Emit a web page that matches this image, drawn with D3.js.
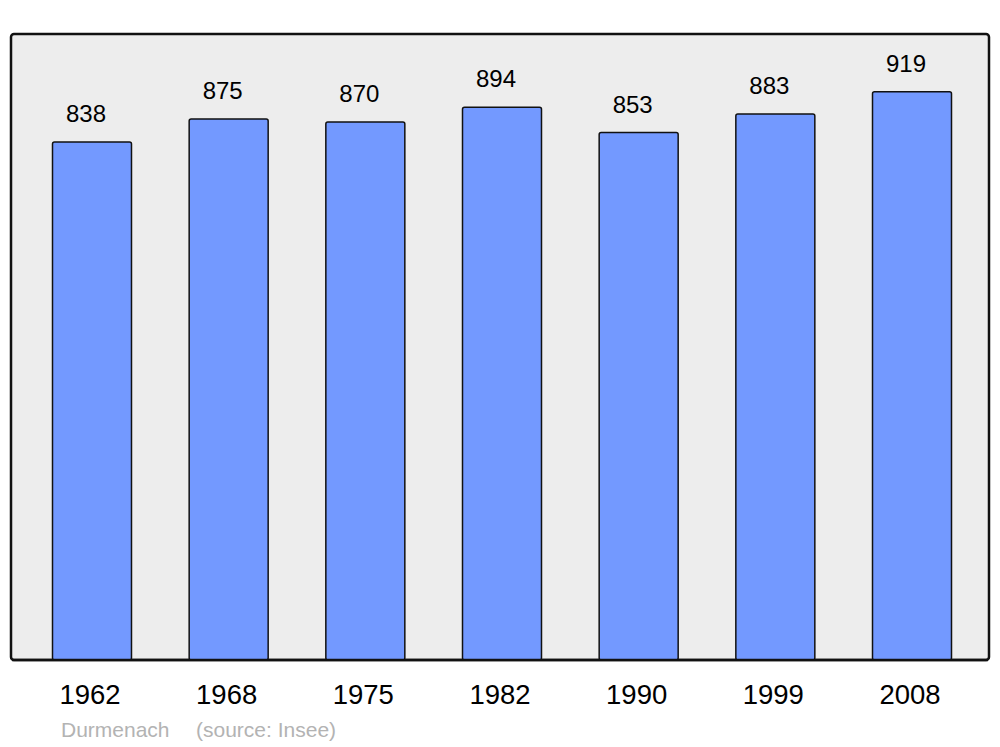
<!DOCTYPE html>
<html>
<head>
<meta charset="utf-8">
<script src="https://cdn.jsdelivr.net/npm/d3@7"></script>
<style>
  body { margin: 0; background: #fff; }
  svg { display: block; font-family: "Liberation Sans", Arial, sans-serif; }
</style>
</head>
<body>
<div id="chart"></div>
<script>
const years = ["1962", "1968", "1975", "1982", "1990", "1999", "2008"];
const population = [838, 875, 870, 894, 853, 883, 919];
const town = "Durmenach";
const source = "(source: Insee)";

const w = 1000, h = 747;

const svg = d3.select("#chart")
  .append("svg")
  .attr("width", w)
  .attr("height", h);

// panel background
svg.append("rect")
  .attr("x", 11)
  .attr("y", 34)
  .attr("width", 978)
  .attr("height", 626)
  .attr("rx", 3)
  .attr("fill", "#ededed")
  .attr("stroke", "#111")
  .attr("stroke-width", 2.5);

const x = d3.scaleBand()
  .domain(years)
  .range([52.5, 951.5])
  .paddingInner(0.422)
  .paddingOuter(0);

const y = d3.scaleLinear()
  .domain([0, d3.max(population) * 1.1])
  .range([660, 35]);

const data = years.map((yr, i) => ({ year: yr, value: population[i] }));

svg.selectAll("rect.bar")
  .data(data)
  .enter()
  .append("rect")
  .attr("class", "bar")
  .attr("x", d => x(d.year))
  .attr("y", d => y(d.value))
  .attr("width", x.bandwidth())
  .attr("height", d => 660 - y(d.value))
  .attr("rx", 2)
  .attr("fill", "#7399ff")
  .attr("stroke", "#111")
  .attr("stroke-width", 1.5);

// redraw bottom edge of the panel over the bars
svg.append("line")
  .attr("x1", 12).attr("x2", 988)
  .attr("y1", 660).attr("y2", 660)
  .attr("stroke", "#111")
  .attr("stroke-width", 2.5);

svg.selectAll("text.value")
  .data(data)
  .enter()
  .append("text")
  .attr("class", "value")
  .attr("x", d => x(d.year) + x.bandwidth() / 2 - 6)
  .attr("y", d => y(d.value) - 20)
  .attr("text-anchor", "middle")
  .style("font-size", "24px")
  .style("fill", "#000")
  .text(d => d.value);

svg.selectAll("text.year")
  .data(data)
  .enter()
  .append("text")
  .attr("class", "year")
  .attr("x", d => x(d.year) + x.bandwidth() / 2 - 2)
  .attr("y", 704)
  .attr("text-anchor", "middle")
  .style("font-size", "27.5px")
  .style("fill", "#000")
  .text(d => d.year);

svg.append("text")
  .attr("x", 61)
  .attr("y", 737)
  .style("font-size", "21px")
  .style("fill", "#b3b3b3")
  .text(town);

svg.append("text")
  .attr("x", 196)
  .attr("y", 737)
  .style("font-size", "21px")
  .style("fill", "#b3b3b3")
  .text(source);
</script>
</body>
</html>
